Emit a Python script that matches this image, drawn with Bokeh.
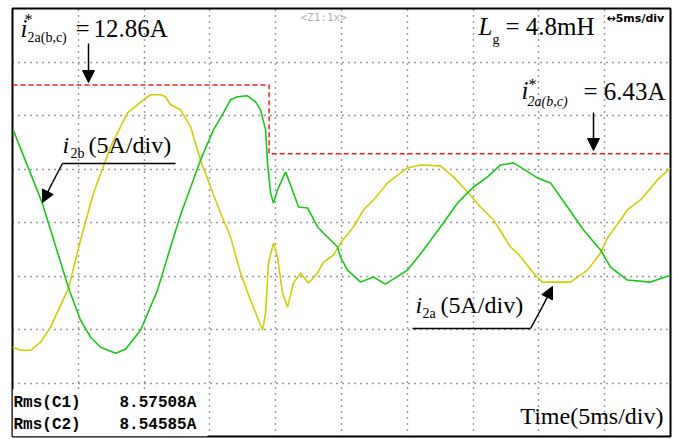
from bokeh.plotting import figure
from bokeh.models import Range1d, Label, Arrow, NormalHead, BoxAnnotation, ColumnDataSource
from bokeh.embed import file_html
from bokeh.resources import INLINE

# ---- data (time in ms, current in A) ----
t_2b = [0.05, 2.26, 4.26, 5.17, 5.93, 6.69, 7.83, 8.59, 9.73, 11.02, 12.01, 12.77, 14.29, 15.27, 15.81,
        16.57, 17.10, 17.86, 18.47, 18.85, 19.23, 19.38, 19.61, 19.83, 20.14, 20.75, 21.35, 21.73, 22.42,
        23.18, 23.63, 24.70, 24.92, 25.46, 26.45, 27.43, 28.34, 30.02, 31.23, 32.52, 33.82,
        35.03, 36.10, 37.08, 38.07, 39.89, 40.88, 42.17, 43.39, 44.68, 45.44, 46.73, 48.48, 50.0]
i_2b = [8.66, 1.83, -6.13, -9.13, -10.72, -11.66, -12.22, -11.84, -10.07, -6.32, -2.29, 0.70, 5.85, 8.66, 9.78,
        11.47, 11.75, 11.84, 11.28, 10.53, 8.66, 5.57, 2.76, 1.83, 3.04, 4.73, 2.76, 1.45, 1.36,
        -0.42, -0.98, -2.29, -3.23, -4.45, -5.57, -5.10, -5.76, -4.45, -2.57, -0.42, 1.83,
        3.32, 4.26, 5.38, 5.57, 4.17, 3.70, 1.45, -0.70, -2.57, -4.17, -5.38, -5.57, -4.92]

t_2a = [0.0, 0.61, 1.37, 2.13, 2.89, 4.26, 5.17, 6.16, 7.45, 8.74, 9.95, 10.49, 11.25, 11.63, 12.01, 12.77,
        13.53, 14.29, 15.05, 15.81, 16.57, 17.33, 18.09, 19.00, 19.23, 19.45, 19.83, 20.14, 20.52, 20.90,
        21.35, 21.89, 22.49, 23.18, 23.63, 24.39, 24.92, 25.91, 26.67, 27.43, 28.50, 30.02,
        31.00, 32.52, 33.51, 34.57, 35.56, 36.55, 37.84, 38.37, 39.59, 40.27, 42.40, 43.69,
        44.68, 45.21, 46.73, 47.72, 49.01, 50.0]
i_2a = [-11.66, -11.94, -11.94, -11.19, -9.78, -6.13, -1.64, 2.76, 7.07, 10.25, 11.47, 11.94, 11.94, 11.75, 11.00, 10.53,
        8.94, 5.85, 3.32, 0.89, -1.36, -4.73, -7.26, -10.07, -8.47, -3.79, -1.92, -3.23, -6.60, -7.91,
        -5.66, -4.73, -5.66, -4.73, -3.70, -3.04, -1.92, -0.42, 1.17, 2.11, 3.70, 5.10,
        5.38, 5.29, 4.26, 2.86, 1.45, 0.23, -2.29, -2.86, -4.73, -5.57, -5.57, -4.45,
        -2.86, -1.45, 1.17, 2.11, 3.98, 5.10]

t_ref = [0.0, 19.5, 19.5, 50.0]
i_ref = [12.86, 12.86, 6.43, 6.43]

grid_t = [5, 10, 15, 20, 25, 30, 35, 40, 45]
grid_i = [-15, -10, -5, 0, 5, 10, 15]

rms_names = ["Rms(C1)", "Rms(C2)"]
rms_values = ["8.57508A", "8.54585A"]

# ---- figure ----
W, H = 673, 439
L, R, T, B = 12, 3, 8, 3
p = figure(width=W, height=H, output_backend="svg", toolbar_location=None,
           x_range=Range1d(0, 50), y_range=Range1d(-20, 20),
           min_border_left=L, min_border_right=R, min_border_top=T, min_border_bottom=B)
p.xaxis.visible = False
p.yaxis.visible = False
p.background_fill_color = "white"
p.border_fill_color = "white"
p.outline_line_color = "black"
p.outline_line_width = 2

p.xgrid.ticker = grid_t
p.ygrid.ticker = grid_i
for g in (p.xgrid, p.ygrid):
    g.grid_line_color = "#333333"
    g.grid_line_dash = "1 5"
    g.grid_line_width = 1.4

# pixel helpers for annotations
fw = W - L - R
fh = H - T - B
def dx(px):
    return (px - L) / fw * 50.0
def dy(py):
    return 20.0 - (py - T) / fh * 40.0

# waveforms
p.line(t_ref, i_ref, color="#ff1a1a", line_width=1.5, line_dash="5 3")
p.line(t_2a, i_2a, color="#d0d000", line_width=1.6)
p.line(t_2b, i_2b, color="#18c818", line_width=1.6)

# white box behind RMS readout
p.add_layout(BoxAnnotation(left=0, right=dx(207), bottom=-20, top=dy(389),
                           fill_color="white", fill_alpha=1.0, line_color=None))

SERIF = "Liberation Serif"

def lab(x, y, text, size, style="normal", font=SERIF, color="black", align="left"):
    yy = y - 0.35 * size
    p.add_layout(Label(x=dx(x), y=dy(yy), text=text, text_font=font, text_font_size=f"{size}px",
                       text_font_style=style, text_color=color, text_baseline="alphabetic",
                       text_align=align))

# top-left reference label
lab(20, 37, "i", 25, "italic")
lab(24, 25, "*", 16)
lab(27, 42, "2a(b,c)", 14)
lab(75, 37, "=", 25)
lab(93, 37, "12.86A", 25)

# Lg label
lab(478, 35, "L", 25, "italic")
lab(492, 44, "g", 14)
lab(505, 35, "= 4.8mH", 25)

# right reference label
lab(521, 99, "i", 25, "italic")
lab(528, 90, "*", 16)
lab(527, 106, "2a(b,c)", 14, "italic")
lab(583, 100, "= 6.43A", 25)

# i2b label
lab(62, 153, "i", 24, "italic")
lab(70, 158, "2b", 14)
lab(88, 153, "(5A/div)", 24)

# i2a label
lab(415, 313, "i", 24, "italic")
lab(422, 318, "2a", 14)
lab(440, 313, "(5A/div)", 24)

# time label
lab(663, 424, "Time(5ms/div)", 24, align="right")

# scope texts
lab(300, 21, "<Z1:1x>", 11, font="DejaVu Sans Mono", color="#b0b0b0")
lab(606, 22, "\u21945ms/div", 11, "bold", font="DejaVu Sans")

for k in range(2):
    lab(13, 408 + 22 * k, rms_names[k], 16, "bold", font="Liberation Mono")
    lab(119, 408 + 22 * k, rms_values[k], 16, "bold", font="Liberation Mono")

# leader lines
seg = ColumnDataSource(dict(x0=[dx(62), dx(62), dx(412), dx(530)],
                            y0=[dy(163), dy(163), dy(328), dy(328)],
                            x1=[dx(175), dx(52), dx(530), dx(542)],
                            y1=[dy(163), dy(182), dy(328), dy(306)]))
p.segment(x0="x0", y0="y0", x1="x1", y1="y1", source=seg, color="black", line_width=1.5)

def arrow(x0, y0, x1, y1):
    p.add_layout(Arrow(end=NormalHead(size=12, fill_color="black", line_color="black"),
                       x_start=dx(x0), y_start=dy(y0), x_end=dx(x1), y_end=dy(y1),
                       line_color="black", line_width=1.5))

arrow(88, 43, 88, 82)
arrow(593, 112, 593, 150)
arrow(52, 182, 42, 202)
arrow(542, 306, 552, 286)

open("out.html", "w").write(file_html(p, INLINE))
